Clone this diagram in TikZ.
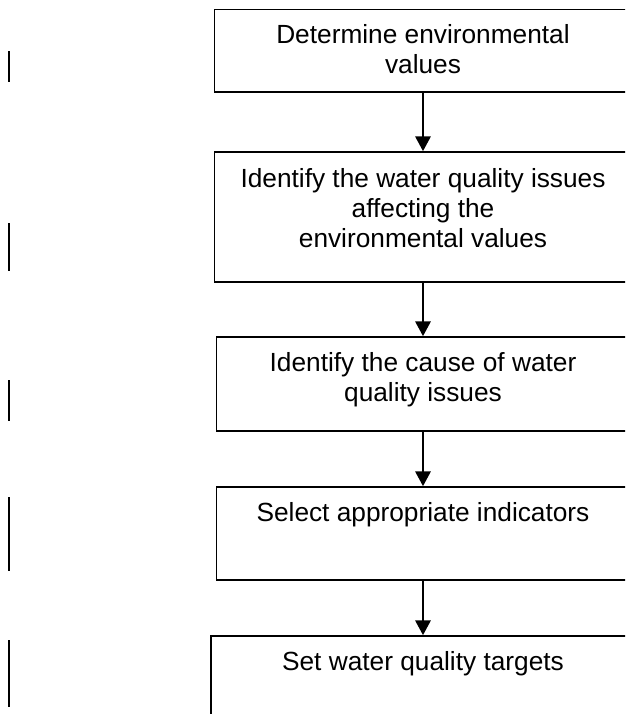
\documentclass[tikz,border=0pt]{standalone}
\usepackage{fontspec}
\setmainfont{Liberation Sans}
\usetikzlibrary{arrows.meta}
\begin{document}
\begin{tikzpicture}[x=0.75pt,y=-0.75pt,
  stepbox/.style={draw=black, line width=1.3pt, rectangle, inner sep=0pt},
  steptext/.style={align=center, inner sep=0pt, anchor=north, font=\fontsize{19.7pt}{22.5pt}\selectfont},
  flowarrow/.style={line width=1.3pt, -{Triangle[width=11.5pt,length=11pt]}},
  sidebar/.style={line width=1.6pt}]
\useasboundingbox (0,0) rectangle (625,714);
\fill[white] (0,0) rectangle (625,714);
\clip (0,0) rectangle (625,714);
% boxes
\node[stepbox, minimum width=312.75pt, minimum height=62pt] (b1) at (423,50.7) {};
\node[stepbox, minimum width=312.75pt, minimum height=97.5pt] (b2) at (423,217) {};
\node[stepbox, minimum width=309.75pt, minimum height=70.5pt] (b3) at (423,384) {};
\node[stepbox, minimum width=309.75pt, minimum height=69.75pt] (b4) at (423,533.5) {};
\node[stepbox, minimum width=318pt, minimum height=93pt] (b5) at (423,698) {};
% texts
\node[steptext] (t1) at (423,24.5) {Determine environmental\\values};
\node[steptext] (t2) at (423,168) {Identify the water quality issues\\affecting the\\environmental values};
\node[steptext] (t3) at (423,352) {Identify the cause of water\\quality issues};
\node[steptext] (t4) at (423,502) {Select appropriate indicators};
\node[steptext] (t5) at (423,651) {Set water quality targets};
% arrows
\draw[flowarrow] (b1.south) -- (b2.north);
\draw[flowarrow] (b2.south) -- (b3.north);
\draw[flowarrow] (b3.south) -- (b4.north);
\draw[flowarrow] (b4.south) -- (b5.north);
% side bars
\draw[sidebar] (9,51) -- (9,82);
\draw[sidebar] (9,223) -- (9,271);
\draw[sidebar] (9,380) -- (9,421);
\draw[sidebar] (9,497) -- (9,571);
\draw[sidebar] (9,640) -- (9,707);
\end{tikzpicture}
\end{document}
